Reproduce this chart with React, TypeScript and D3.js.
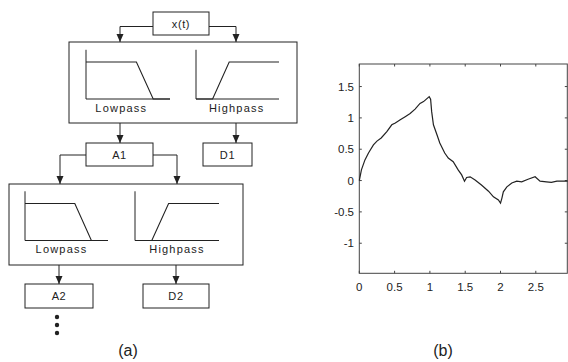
import { scaleLinear, line } from "d3";

// (b) signal
const T = [0, 0.03, 0.08, 0.13, 0.2, 0.25, 0.31, 0.39, 0.46, 0.51, 0.58, 0.65, 0.72, 0.79, 0.86, 0.91, 0.99, 1.01, 1.025, 1.05, 1.1, 1.14, 1.21, 1.26, 1.33, 1.4, 1.45, 1.49, 1.52, 1.57, 1.64, 1.73, 1.83, 1.9, 1.97, 2.0, 2.02, 2.04, 2.09, 2.16, 2.23, 2.3, 2.39, 2.49, 2.56, 2.65, 2.72, 2.8, 2.95];
const V = [0, 0.17, 0.33, 0.44, 0.57, 0.63, 0.68, 0.78, 0.89, 0.92, 0.97, 1.02, 1.07, 1.14, 1.23, 1.26, 1.34, 1.3, 1.1, 0.89, 0.73, 0.6, 0.44, 0.36, 0.3, 0.17, 0.09, -0.01, 0.05, 0.06, 0.01, -0.07, -0.17, -0.26, -0.31, -0.36, -0.28, -0.18, -0.1, -0.04, -0.01, -0.02, 0.02, 0.06, -0.01, -0.02, -0.03, -0.01, -0.01];
const X_TICKS = [0, 0.5, 1, 1.5, 2, 2.5];
const X_LABELS = ["0", "0.5", "1", "1.5", "2", "2.5"];
const Y_TICKS = [-1, -0.5, 0, 0.5, 1, 1.5];
const Y_LABELS = ["-1", "-0.5", "0", "0.5", "1", "1.5"];

// filter responses (normalised frequency, gain)
const LOW_F = [0, 0.6, 0.8, 1];
const LOW_G = [1, 1, 0, 0];
const HIGH_F = [0, 0.2, 0.4, 1];
const HIGH_G = [0, 0, 1, 1];

const FONT = "'Liberation Sans', Arial, sans-serif";
const INK = "#222";

function Box({ x, y, w, h, label }: { x: number; y: number; w: number; h: number; label: string }) {
  return (
    <g>
      <rect x={x} y={y} width={w} height={h} fill="none" stroke={INK} strokeWidth={1} />
      <text x={x + w / 2} y={y + h / 2 + 4} textAnchor="middle" fontSize={11} letterSpacing={0.6} fill={INK}>{label}</text>
    </g>
  );
}

function Arrow({ pts }: { pts: [number, number][] }) {
  const [ex, ey] = pts[pts.length - 1];
  const d = "M" + pts.map(p => p.join(",")).join("L");
  return (
    <g>
      <path d={d} fill="none" stroke={INK} strokeWidth={1} />
      <path d={`M${ex - 3.5},${ey - 8}L${ex + 3.5},${ey - 8}L${ex},${ey}Z`} fill={INK} />
    </g>
  );
}

function Filter({ x0, y0, w, f, g, label, lx }:
  { x0: number; y0: number; w: number; f: number[]; g: number[]; label: string; lx: number }) {
  const sx = scaleLinear().domain([0, 1]).range([x0, x0 + w]);
  const sy = scaleLinear().domain([0, 1]).range([y0, y0 - 37]);
  const pts = f.map((v, i) => [v, g[i]] as [number, number]);
  const ln = line<[number, number]>().x(d => sx(d[0])).y(d => sy(d[1]));
  return (
    <g>
      <line x1={x0} y1={sy(1.33)} x2={x0} y2={y0} stroke={INK} strokeWidth={1} />
      <line x1={x0} y1={y0} x2={x0 + w} y2={y0} stroke={INK} strokeWidth={1} />
      <path d={ln(pts) ?? ""} fill="none" stroke={INK} strokeWidth={1.1} />
      <text x={sx(lx)} y={y0 + 12.5} textAnchor="middle" fontSize={11} letterSpacing={1.2} fill={INK}>{label}</text>
    </g>
  );
}

export default function App() {
  const W = 568, H = 362;
  const x = scaleLinear().domain([0, 2.946]).range([359.3, 567.3]);
  const y = scaleLinear().domain([-1.48, 1.86]).range([273.3, 64]);
  const curve = line<number>().x((_, i) => x(T[i])).y(d => y(d));
  const [xl, xr] = x.range();
  const [yb, yt] = y.range();
  return (
    <svg width={W} height={H} viewBox={`0 0 ${W} ${H}`}
      style={{ position: "absolute", left: 0, top: 0, background: "#fff", fontFamily: FONT }}>
      {/* (a) decomposition diagram */}
      <Box x={153} y={12} w={56} h={23} label="x(t)" />
      <Arrow pts={[[153, 26.5], [120, 26.5], [120, 42]]} />
      <Arrow pts={[[209, 26.5], [236, 26.5], [236, 42]]} />
      <rect x={69} y={42} width={228} height={81} fill="none" stroke={INK} strokeWidth={1} />
      <Filter x0={86} y0={99} w={84} f={LOW_F} g={LOW_G} label="Lowpass" lx={0.42} />
      <Filter x0={196} y0={99} w={83} f={HIGH_F} g={HIGH_G} label="Highpass" lx={0.49} />
      <Arrow pts={[[120, 123], [120, 143]]} />
      <Arrow pts={[[236, 123], [236, 143]]} />
      <Box x={86} y={143} w={67} h={23} label="A1" />
      <Box x={203} y={143} w={49} h={23} label="D1" />
      <Arrow pts={[[86, 155], [60, 155], [60, 184]]} />
      <Arrow pts={[[153, 155], [177, 155], [177, 184]]} />
      <rect x={9} y={184} width={234} height={81} fill="none" stroke={INK} strokeWidth={1} />
      <Filter x0={25} y0={240.5} w={83} f={LOW_F} g={LOW_G} label="Lowpass" lx={0.44} />
      <Filter x0={135} y0={240.5} w={84} f={HIGH_F} g={HIGH_G} label="Highpass" lx={0.5} />
      <Arrow pts={[[59, 265], [59, 284]]} />
      <Arrow pts={[[176, 265], [176, 284]]} />
      <Box x={25} y={284} w={68} h={24} label="A2" />
      <Box x={143} y={284} w={66} h={24} label="D2" />
      {[317, 325, 333].map(cy => <circle key={cy} cx={57} cy={cy} r={2.2} fill={INK} />)}
      <text x={128} y={356} textAnchor="middle" fontSize={16} fill={INK}>(a)</text>

      {/* (b) signal plot */}
      <rect x={xl} y={yt} width={xr - xl} height={yb - yt} fill="none" stroke="#444" strokeWidth={1} />
      {X_TICKS.map((t, i) => (
        <g key={t}>
          <line x1={x(t)} x2={x(t)} y1={yb} y2={yb - 2.5} stroke="#444" />
          <line x1={x(t)} x2={x(t)} y1={yt} y2={yt + 2.5} stroke="#444" />
          <text x={x(t)} y={290.5} textAnchor="middle" fontSize={11.5} fill={INK}>{X_LABELS[i]}</text>
        </g>
      ))}
      {Y_TICKS.map((t, i) => (
        <g key={t}>
          <line x1={xl} x2={xl + 2.5} y1={y(t)} y2={y(t)} stroke="#444" />
          <line x1={xr} x2={xr - 2.5} y1={y(t)} y2={y(t)} stroke="#444" />
          <text x={354} y={y(t) + 4} textAnchor="end" fontSize={11.5} fill={INK}>{Y_LABELS[i]}</text>
        </g>
      ))}
      <path d={curve(V) ?? ""} fill="none" stroke={INK} strokeWidth={1.2} />
      <text x={443} y={356} textAnchor="middle" fontSize={16} fill={INK}>(b)</text>
    </svg>
  );
}
